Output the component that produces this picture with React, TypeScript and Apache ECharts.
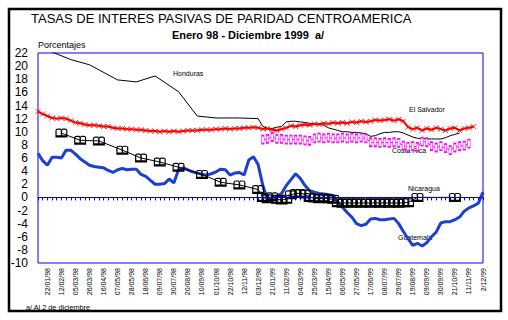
import React, { useEffect, useRef } from "react";
import * as echarts from "echarts";

const categories: string[] = [
  "08/01/98", "15/01/98", "22/01/98", "29/01/98", "05/02/98", "12/02/98", "19/02/98", "26/02/98",
  "05/03/98", "12/03/98", "19/03/98", "26/03/98", "02/04/98", "09/04/98", "16/04/98", "23/04/98",
  "30/04/98", "07/05/98", "14/05/98", "21/05/98", "28/05/98", "04/06/98", "11/06/98", "18/06/98",
  "25/06/98", "02/07/98", "09/07/98", "16/07/98", "23/07/98", "30/07/98", "06/08/98", "13/08/98",
  "20/08/98", "27/08/98", "03/09/98", "10/09/98", "17/09/98", "24/09/98", "01/10/98", "08/10/98",
  "15/10/98", "22/10/98", "29/10/98", "05/11/98", "12/11/98", "19/11/98", "26/11/98", "03/12/98",
  "10/12/98", "17/12/98", "21/01/99", "28/01/99", "04/02/99", "11/02/99", "18/02/99", "25/02/99",
  "04/03/99", "11/03/99", "18/03/99", "25/03/99", "01/04/99", "08/04/99", "15/04/99", "22/04/99",
  "29/04/99", "06/05/99", "13/05/99", "20/05/99", "27/05/99", "03/06/99", "10/06/99", "17/06/99",
  "24/06/99", "01/07/99", "08/07/99", "15/07/99", "22/07/99", "29/07/99", "05/08/99", "12/08/99",
  "19/08/99", "26/08/99", "02/09/99", "09/09/99", "16/09/99", "23/09/99", "30/09/99", "07/10/99",
  "14/10/99", "21/10/99", "28/10/99", "04/11/99", "11/11/99", "18/11/99", "25/11/99", "2/12/99",
];

const guatemala: (number | null)[] = [
  6.7, 5.6, 4.9, 6.1, 6.1, 6.0, 7.2, 7.2, 6.6, 5.9, 5.4, 4.9, 4.7, 4.6, 4.5, 4.1,
  3.8, 4.2, 4.4, 4.2, 4.3, 4.3, 3.5, 3.2, 2.6, 2.0, 2.0, 2.1, 2.8, 2.2, 4.2, 4.5,
  4.2, 3.9, 3.7, 3.5, 3.4, 3.6, 3.9, 4.3, 4.2, 3.4, 3.7, 3.8, 3.4, 5.7, 6.2, 5.0,
  1.8, -0.4, 0.0, 0.2, 0.6, 1.8, 2.7, 3.6, 2.9, 1.8, 1.0, 0.8, 0.6, 0.5, 0.4, 0.3,
  -0.7, -1.5, -2.3, -3.0, -4.0, -4.3, -4.1, -3.3, -3.2, -3.4, -3.4, -3.3, -3.2, -4.0, -5.2, -6.3,
  -7.3, -7.0, -7.4, -6.9, -6.0, -5.3, -3.9, -3.7, -3.7, -3.4, -3.0, -2.1, -1.6, -1.3, -0.9, 0.8,
];

const nicaragua: (number | null)[] = [
  null, null, null, null, null, 9.8, null, null, null, 8.7, null, null, null, 8.6, null, null,
  null, null, 7.2, null, null, null, 6.0, null, null, null, 5.4, null, null, null, 4.6, null,
  null, null, null, 3.5, null, null, null, 2.3, null, null, null, 1.9, null, null, null, 1.2,
  0.0, -0.2, 0.1, -0.3, -0.4, -0.3, 0.4, 0.6, 0.6, 0.5, 0.0, -0.1, -0.2, -0.1, -0.2, -0.3,
  -0.8, -0.9, -0.8, -0.9, -0.8, -0.9, -0.8, -0.9, -0.8, -0.9, -0.8, -0.9, -0.8, -0.9, -0.8, -0.8,
  null, 0.0, null, null, null, null, null, null, null, 0.0, null, null, null, null, null, null,
];

const honduras: (number | null)[] = [
  23.0, null, null, null, null, null, null, 21.0, null, null, null, 20.2, null, null, null, null,
  null, 17.9, null, null, null, 17.6, null, null, null, 18.5, null, null, null, null, 16.1, null,
  null, null, 12.4, null, null, null, 12.1, null, null, null, null, 12.1, null, null, null, 12.0,
  10.8, 10.5, 10.5, 10.7, 10.8, 11.5, 11.6, 11.6, 11.5, 11.4, 11.3, 11.2, 11.2, 11.0, 10.6, 10.4,
  10.2, 10.0, 10.0, 9.9, 9.9, 9.8, 9.7, 9.3, 9.4, 9.7, 9.9, 9.9, 10.0, 10.0, 9.8, 9.5,
  9.2, 9.0, 9.0, 8.9, 8.9, 8.9, 8.9, 9.1, 9.4, 9.6, 9.8, null, null, null, null, null,
];

const costaRica: (number | null)[] = [
  null, null, null, null, null, null, null, null, null, null, null, null, null, null, null, null,
  null, null, null, null, null, null, null, null, null, null, null, null, null, null, null, null,
  null, null, null, null, null, null, null, null, null, null, null, null, null, null, null, null,
  8.8, 8.9, 9.2, 8.9, 8.9, 8.8, 8.8, 8.8, 8.8, 8.7, 8.6, 9.0, 9.1, 9.0, 9.1, 9.0,
  9.0, 9.1, 9.0, 9.1, 9.0, 9.1, 9.0, 8.4, 8.4, 8.3, 8.4, 8.3, 8.4, 8.3, 7.9, 7.7,
  7.8, 7.7, 8.5, 8.4, 7.8, 7.6, 7.8, 7.5, 7.2, 7.6, 7.8, 7.9, 8.2, null, null, null,
];

const elSalvador: (number | null)[] = [
  13.1, 12.7, 12.4, 12.1, 12.0, 12.1, 12.0, 11.7, 11.4, 11.3, 11.1, 11.0, 11.0, 10.9, 10.8, 10.8,
  10.6, 10.5, 10.5, 10.4, 10.4, 10.3, 10.3, 10.2, 10.1, 10.1, 10.0, 10.1, 10.0, 10.1, 10.0, 10.1,
  10.2, 10.2, 10.2, 10.3, 10.3, 10.3, 10.4, 10.4, 10.5, 10.4, 10.5, 10.5, 10.6, 10.6, 10.7, 10.6,
  10.4, 10.5, 10.3, 10.2, 10.4, 10.6, 10.9, 10.8, 11.0, 11.1, 11.0, 11.2, 11.1, 11.3, 11.2, 11.4,
  11.3, 11.4, 11.3, 11.5, 11.4, 11.6, 11.5, 11.6, 11.8, 11.7, 11.8, 11.9, 11.7, 11.9, 11.6, 10.7,
  10.4, 10.6, 10.2, 10.5, 10.3, 10.6, 10.4, 10.2, 10.5, 10.6, 10.2, 10.5, 10.6, 10.8, null, null,
];

const yTicks = { min: -10, max: 22, interval: 2 };

const FONT = "'Liberation Sans', Arial, sans-serif";
const BOOK =
  "path://M0,9L0,2Q0,0 2.5,0L4.5,0Q6,0 6,1.5Q6,0 7.5,0L9.5,0Q12,0 12,2L12,9Z" +
  "M1.2,1.8L1.2,6.8L5.3,6.8L5.3,2Q5.3,1.2 4.5,1.2L2,1.2Q1.2,1.2 1.2,1.8Z" +
  "M6.7,2L6.7,6.8L10.8,6.8L10.8,1.8Q10.8,1.2 10,1.2L7.5,1.2Q6.7,1.2 6.7,2Z";
const CROSS = "path://M0,0L8,8M8,0L0,8";

export default function App() {
  const ref = useRef<HTMLDivElement>(null);
  useEffect(() => {
    document.body.style.margin = "0";
    const chart = echarts.init(ref.current!, undefined, { renderer: "svg" });
    const small = { fontSize: 7, fontFamily: FONT, fill: "#000" };
    chart.setOption({
      animation: false,
      backgroundColor: "#fff",
      grid: {
        left: 38, top: 53, width: 445, height: 210, show: true,
        borderColor: "#0000ff", borderWidth: 1, backgroundColor: "transparent",
      },
      xAxis: {
        type: "category",
        data: categories,
        boundaryGap: false,
        axisLine: { lineStyle: { color: "#0000ff", width: 1 } },
        axisTick: { interval: 0, length: 3, lineStyle: { color: "#0000ff" } },
        axisLabel: {
          interval: (i: number) => i >= 2 && (i - 2) % 3 === 0,
          rotate: 90, fontSize: 7, color: "#000", margin: 5, fontFamily: FONT,
        },
        splitLine: { show: false },
      },
      yAxis: {
        type: "value",
        min: yTicks.min, max: yTicks.max, interval: yTicks.interval,
        axisLine: { show: false }, axisTick: { show: false }, splitLine: { show: false },
        axisLabel: { fontSize: 12, color: "#000", margin: 10, fontFamily: FONT },
      },
      series: [
        {
          name: "Guatemala", type: "line", data: guatemala, symbol: "none",
          lineStyle: { color: "#1c40d0", width: 3 }, itemStyle: { color: "#1c40d0" },
          markLine: {
            silent: true, symbol: ["none", "none"], label: { show: false },
            lineStyle: { color: "#0000ff", width: 1, type: "solid" },
            data: [{ yAxis: 0 }],
          },
        },
        {
          name: "Nicaragua", type: "line", data: nicaragua, connectNulls: true,
          symbol: BOOK, symbolSize: [12, 9], showAllSymbol: true,
          lineStyle: { color: "#000", width: 1 }, itemStyle: { color: "#000" },
        },
        {
          name: "Honduras", type: "line", data: honduras, connectNulls: true, symbol: "none",
          lineStyle: { color: "#000", width: 1 }, itemStyle: { color: "#000" },
        },
        {
          name: "Costa Rica", type: "line", data: costaRica, symbol: "rect",
          symbolSize: [2.5, 8], showAllSymbol: true,
          lineStyle: { color: "#ff00ff", width: 1 },
          itemStyle: { color: "#fff", borderColor: "#ff00ff", borderWidth: 1 },
        },
        {
          name: "El Salvador", type: "line", data: elSalvador, symbol: CROSS,
          symbolSize: 5, showAllSymbol: true,
          lineStyle: { color: "#ff0000", width: 2 },
          itemStyle: { color: "#ff0000", borderColor: "#ff0000", borderWidth: 0.8 },
        },
      ],
      graphic: [
        {
          type: "rect", shape: { x: 9, y: 9, width: 492, height: 302 },
          style: { fill: "none", stroke: "#000", lineWidth: 2.5 }, silent: true,
        },
        {
          type: "text", x: 31, y: 18,
          style: { text: "TASAS DE INTERES PASIVAS DE PARIDAD CENTROAMERICA", fontSize: 13, fontFamily: FONT, fill: "#000", verticalAlign: "middle" },
        },
        {
          type: "text", x: 248, y: 35,
          style: { text: "Enero 98 - Diciembre 1999  a/", fontSize: 11, fontWeight: "bold", fontFamily: FONT, fill: "#000", align: "center", verticalAlign: "middle" },
        },
        {
          type: "text", x: 38, y: 45,
          style: { text: "Porcentajes", fontSize: 9, fontFamily: FONT, fill: "#000", verticalAlign: "middle" },
        },
        {
          type: "text", x: 26, y: 307,
          style: { text: "a/ Al 2 de diciembre", fontSize: 7.3, fontFamily: FONT, fill: "#000", verticalAlign: "middle" },
        },
        { type: "text", x: 173, y: 73, style: { ...small, text: "Honduras", verticalAlign: "middle" } },
        { type: "text", x: 409, y: 109, style: { ...small, text: "El Salvador", verticalAlign: "middle" } },
        { type: "text", x: 392, y: 150, style: { ...small, text: "Costa Rica", verticalAlign: "middle" } },
        { type: "text", x: 408, y: 188, style: { ...small, text: "Nicaragua", verticalAlign: "middle" } },
        { type: "text", x: 398, y: 237, style: { ...small, text: "Guatemala", verticalAlign: "middle" } },
      ],
    });
    return () => chart.dispose();
  }, []);
  return <div ref={ref} style={{ position: "absolute", left: 0, top: 0, width: 508, height: 320 }} />;
}
